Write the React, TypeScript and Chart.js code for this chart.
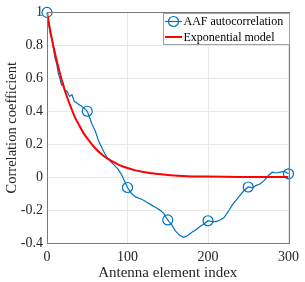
import React, { useEffect, useRef } from "react";
import { Chart, registerables } from "chart.js";

Chart.register(...registerables);

const blueX = [0,2,4,6,8,10,12,14,16,18,20,22,25,28,31,34,37,40,43,46,50,53,56,60,64,68,72,76,80,84,88,92,96,100,105,110,115,120,125,130,135,140,145,150,155,160,165,170,175,180,185,190,195,200,205,210,215,220,225,230,235,240,245,250,255,260,265,270,275,280,285,290,295,300];
const blueY = [1.0,0.93,0.87,0.84,0.78,0.72,0.69,0.63,0.60,0.56,0.57,0.53,0.52,0.49,0.50,0.46,0.45,0.44,0.43,0.42,0.40,0.36,0.32,0.28,0.22,0.18,0.14,0.11,0.09,0.07,0.05,0.02,-0.02,-0.063,-0.10,-0.12,-0.13,-0.14,-0.155,-0.17,-0.185,-0.20,-0.22,-0.26,-0.29,-0.33,-0.355,-0.365,-0.355,-0.335,-0.32,-0.30,-0.285,-0.265,-0.27,-0.27,-0.26,-0.245,-0.21,-0.17,-0.14,-0.11,-0.08,-0.06,-0.065,-0.05,-0.04,-0.02,0.01,0.03,0.025,0.03,0.035,0.02];

const redX = [0,5,10,15,20,25,30,35,40,45,50,60,70,80,90,100,110,120,135,150,175,200,250,300];
const redY = [1.0,0.865,0.75,0.65,0.56,0.485,0.42,0.36,0.315,0.27,0.235,0.175,0.13,0.098,0.073,0.055,0.041,0.031,0.02,0.013,0.006,0.003,0.001,0.0];

const markerX = [0,50,100,150,200,250,300];
const xTicks = [0,100,200,300];
const yTicks = [-0.4,-0.2,0,0.2,0.4,0.6,0.8,1];
const legendLabels = ["AAF autocorrelation","Exponential model"];

const BLUE = "#0072BD";
const RED = "#FF0000";
const FONT = "'Liberation Serif', 'Times New Roman', serif";

const boxPlugin = {
  id: "boxLegend",
  afterDraw(chart: any) {
    const { ctx, chartArea } = chart;
    ctx.save();
    ctx.strokeStyle = "#7a7a7a";
    ctx.lineWidth = 1;
    ctx.strokeRect(Math.round(chartArea.left) + 0.5, Math.round(chartArea.top) + 0.5, Math.round(chartArea.right - chartArea.left), Math.round(chartArea.bottom - chartArea.top));
    // legend
    const lx = 163.5, ly = 13.5, lw = 126, lh = 31;
    ctx.fillStyle = "#ffffff";
    ctx.fillRect(lx, ly, lw, lh);
    ctx.strokeStyle = "#a0a0a0";
    ctx.strokeRect(lx, ly, lw, lh);
    ctx.font = `12px ${FONT}`;
    ctx.textBaseline = "middle";
    ctx.fillStyle = "#000000";
    const y1 = 21.5, y2 = 37;
    ctx.strokeStyle = BLUE;
    ctx.lineWidth = 1.2;
    ctx.beginPath(); ctx.moveTo(165, y1); ctx.lineTo(182, y1); ctx.stroke();
    ctx.beginPath(); ctx.arc(173.5, y1, 5, 0, Math.PI * 2); ctx.stroke();
    ctx.fillText(legendLabels[0], 183.5, y1 + 0.5);
    ctx.strokeStyle = RED;
    ctx.lineWidth = 2;
    ctx.beginPath(); ctx.moveTo(165, y2); ctx.lineTo(182, y2); ctx.stroke();
    ctx.fillText(legendLabels[1], 183.5, y2 + 0.5);
    ctx.restore();
  },
};

export default function App() {
  const ref = useRef<HTMLCanvasElement>(null);
  useEffect(() => {
    if (!ref.current) return;
    const chart = new Chart(ref.current, {
      type: "line",
      data: {
        datasets: [
          {
            label: legendLabels[0],
            data: blueX.map((x, i) => ({ x, y: blueY[i] })),
            borderColor: BLUE,
            backgroundColor: "transparent",
            borderWidth: 1.2,
            pointRadius: (c: any) => (markerX.includes(c.raw?.x) ? 5 : 0),
            pointHoverRadius: 0,
            pointBorderColor: BLUE,
            pointBorderWidth: 1.2,
            pointBackgroundColor: "transparent",
            tension: 0,
            clip: false,
            order: 1,
          },
          {
            label: legendLabels[1],
            data: redX.map((x, i) => ({ x, y: redY[i] })),
            borderColor: RED,
            backgroundColor: "transparent",
            borderWidth: 2,
            pointRadius: 0,
            tension: 0.4,
            cubicInterpolationMode: "monotone",
            order: 0,
          },
        ],
      },
      options: {
        animation: false,
        responsive: false,
        maintainAspectRatio: false,
        layout: { padding: { top: 10, right: 14, left: 0, bottom: 0 } },
        plugins: { legend: { display: false }, tooltip: { enabled: false } },
        scales: {
          x: {
            type: "linear",
            min: 0,
            max: 300,
            afterBuildTicks: (s: any) => { s.ticks = xTicks.map((v) => ({ value: v })); },
            afterFit: (s: any) => { s.height = 39; },
            grid: { color: "#e8e8e8", drawTicks: false },
            border: { display: false },
            ticks: { color: "#262626", font: { family: FONT, size: 14 }, padding: 6, maxRotation: 0 },
            title: { display: true, text: "Antenna element index", color: "#262626", font: { family: FONT, size: 15 }, padding: { top: 0, bottom: 0 } },
          },
          y: {
            type: "linear",
            min: -0.4,
            max: 1,
            afterBuildTicks: (s: any) => { s.ticks = yTicks.map((v) => ({ value: v })); },
            afterFit: (s: any) => { s.width = 47; },
            grid: { color: "#e8e8e8", drawTicks: false },
            border: { display: false },
            ticks: { color: "#262626", font: { family: FONT, size: 14 }, padding: 4, callback: (v: any) => String(Math.round(v * 10) / 10) },
            title: { display: true, text: "Correlation coefficient", color: "#262626", font: { family: FONT, size: 14.5 }, padding: { top: 3, bottom: 0 } },
          },
        },
      },
      plugins: [boxPlugin],
    } as any);
    return () => chart.destroy();
  }, []);
  return (
    <div style={{ position: "absolute", left: 0, top: 0, width: 305, height: 282, background: "#fff" }}>
      <canvas ref={ref} width={305} height={282} style={{ width: 305, height: 282 }} />
    </div>
  );
}
